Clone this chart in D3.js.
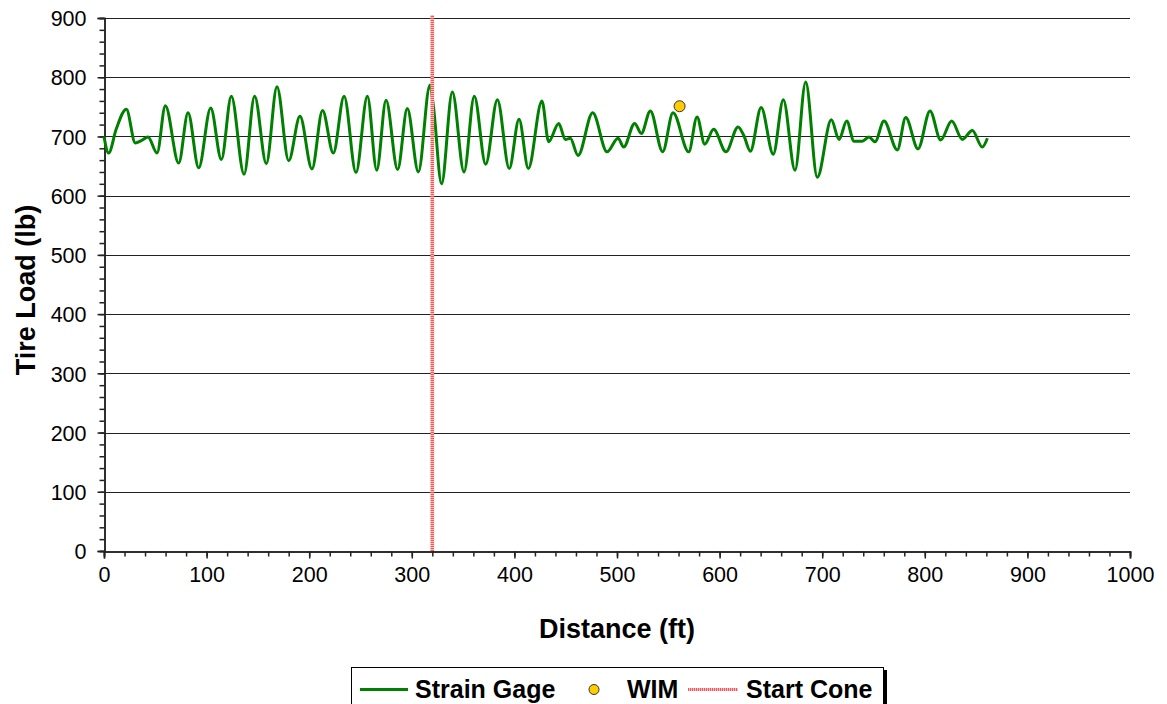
<!DOCTYPE html>
<html>
<head>
<meta charset="utf-8">
<script src="https://cdn.jsdelivr.net/npm/d3@7"></script>
<style>
  html, body { margin: 0; padding: 0; background: #fff; }
  svg { display: block; font-family: "Liberation Sans", Arial, sans-serif; }
</style>
</head>
<body>
<svg id="chart" width="1167" height="704"></svg>
<script>
// Strain gage trace: distance (ft) and tire load (lb) at peaks, troughs and shoulders
const gageDistance = [0, 4.5, 12, 21.8, 30.5, 36.4, 42.9, 51.7, 59.8, 72.8, 81.9, 92.3, 104, 114.4, 124.1, 136.5,
  146.8, 158.2, 168.6, 180, 191, 202.7, 213, 223.5, 234, 245.6, 256.7, 265.8, 274.9, 286.2, 295.6, 306.4,
  317.7, 321, 329, 339.5, 350.9, 360.9, 372, 383.4, 395, 404.5, 413.6, 426.8, 433.4, 443.2, 449.6, 454.5,
  462, 476.3, 490.3, 501, 506.5, 517.2, 523.7, 532.5, 544.5, 554.6, 569.9, 578, 585.5, 594.2, 606.2, 618,
  623.5, 630, 640.5, 652.3, 662.1, 673.5, 683.9, 695.2, 708.9, 716.4, 723.9, 731, 739, 745.6, 751.5, 760.2,
  773.2, 781.4, 793.4, 805.1, 815.5, 826.2, 836.6, 846.3, 856, 861];
const gageLoad = [700, 672, 713, 746, 689, 693, 699, 672, 752, 655, 740, 647, 748, 661, 768, 636,
  768, 654, 784, 659, 734, 645, 744, 672, 768, 639, 768, 643, 761, 644, 747, 640,
  787, 752, 620, 775, 640, 768, 653, 762, 646, 729, 646, 760, 691, 722, 695, 697,
  668, 740, 674, 697, 682, 722, 705, 743, 674, 740, 674, 733, 687, 712, 674, 716,
  702, 675, 749, 670, 762, 643, 792, 631, 728, 695, 726, 692, 692, 699, 691, 726,
  677, 732, 679, 743, 694, 726, 695, 710, 682, 697];

// Weigh-in-motion reading
const wimDistance = [561];
const wimLoad = [751];

// Start cone position
const coneDistance = [320, 320];
const coneLoad = [0, 905];

// Axis ticks
const xTicks = [0, 100, 200, 300, 400, 500, 600, 700, 800, 900, 1000];
const yTicks = [0, 100, 200, 300, 400, 500, 600, 700, 800, 900];
const legendLabels = ["Strain Gage", "WIM", "Start Cone"];

const svg = d3.select("#chart");
const plotLeft = 104, plotRight = 1130, plotTop = 18, plotBottom = 551;

const x = d3.scaleLinear().domain([0, 1000]).range([plotLeft, plotRight]);
const y = d3.scaleLinear().domain([0, 900]).range([plotBottom, plotTop]);

// Horizontal gridlines
svg.append("g")
  .selectAll("line")
  .data(yTicks.filter(t => t > 0))
  .join("line")
  .attr("x1", plotLeft).attr("x2", plotRight)
  .attr("y1", d => Math.round(y(d)) + 0.5).attr("y2", d => Math.round(y(d)) + 0.5)
  .attr("stroke", "#222").attr("stroke-width", 1.2);

// Axes with minor ticks
function minorTicks(max, step) { return d3.range(0, max + 0.001, step); }

const xMinor = svg.append("g").attr("transform", `translate(0,${Math.round(plotBottom) + 0.5})`)
  .call(d3.axisBottom(x).tickValues(minorTicks(1000, 20)).tickSize(5).tickFormat(""));
const xMajor = svg.append("g").attr("transform", `translate(0,${Math.round(plotBottom) + 0.5})`)
  .call(d3.axisBottom(x).tickValues(xTicks).tickSize(7).tickPadding(14).tickFormat(d3.format("d")));

const yMinor = svg.append("g").attr("transform", `translate(${plotLeft + 0.5},0)`)
  .call(d3.axisLeft(y).tickValues(minorTicks(900, 20)).tickSize(5).tickFormat(""));
const yMajor = svg.append("g").attr("transform", `translate(${plotLeft + 0.5},0)`)
  .call(d3.axisLeft(y).tickValues(yTicks).tickSize(7).tickPadding(11).tickFormat(d3.format("d")));

[xMinor, xMajor, yMinor, yMajor].forEach(g => {
  g.selectAll("path.domain").attr("stroke", "#222").attr("stroke-width", 1.5);
  g.selectAll(".tick line").attr("stroke", "#222").attr("stroke-width", 1.5);
  g.selectAll("text").attr("fill", "#000").style("font-size", "21.5px")
    .style("font-family", "'Liberation Sans', Arial, sans-serif");
});
xMajor.selectAll("text").attr("dy", "0.42em");
yMajor.selectAll("text").attr("dy", "0.36em");

// Axis titles
svg.append("text")
  .attr("x", 617).attr("y", 638)
  .attr("text-anchor", "middle")
  .style("font-size", "27px").style("font-weight", "bold")
  .text("Distance (ft)");

svg.append("text")
  .attr("transform", `translate(35,290) rotate(-90)`)
  .attr("text-anchor", "middle")
  .style("font-size", "27px").style("font-weight", "bold")
  .text("Tire Load (lb)");

// Strain gage trace
const gage = gageDistance.map((d, i) => [d, gageLoad[i]]);
const line = d3.line().x(d => x(d[0])).y(d => y(d[1])).curve(d3.curveMonotoneX);
svg.append("path")
  .datum(gage)
  .attr("d", line)
  .attr("fill", "none")
  .attr("stroke", "#008000")
  .attr("stroke-width", 3)
  .attr("stroke-linejoin", "round");

// Start cone line
const cone = coneDistance.map((d, i) => [d, coneLoad[i]]);
const straight = d3.line().x(d => x(d[0])).y(d => y(d[1]));
svg.append("path").datum(cone).attr("d", straight)
  .attr("stroke", "#ffbcbc").attr("stroke-width", 3.5).attr("fill", "none");
svg.append("path").datum(cone).attr("d", straight)
  .attr("stroke", "#f25858").attr("stroke-width", 3.5).attr("stroke-dasharray", "1 1").attr("fill", "none");

// WIM point
svg.append("g").selectAll("circle")
  .data(wimDistance.map((d, i) => [d, wimLoad[i]]))
  .join("circle")
  .attr("cx", d => x(d[0])).attr("cy", d => y(d[1]))
  .attr("r", 5.5)
  .attr("fill", "#ffcc00").attr("stroke", "#333").attr("stroke-width", 1);

// Legend
const legend = svg.append("g");
legend.append("rect").attr("x", 354).attr("y", 670).attr("width", 533).attr("height", 40)
  .attr("fill", "#000");
legend.append("rect").attr("x", 351.5).attr("y", 667.5).attr("width", 532).attr("height", 40)
  .attr("fill", "#fff").attr("stroke", "#000").attr("stroke-width", 1);

const legendY = 689.5;
legend.append("line").attr("x1", 360).attr("x2", 408).attr("y1", legendY).attr("y2", legendY)
  .attr("stroke", "#008000").attr("stroke-width", 3);
legend.append("circle").attr("cx", 594).attr("cy", legendY).attr("r", 5)
  .attr("fill", "#ffcc00").attr("stroke", "#333").attr("stroke-width", 1);
legend.append("line").attr("x1", 688).attr("x2", 738).attr("y1", legendY).attr("y2", legendY)
  .attr("stroke", "#ffbcbc").attr("stroke-width", 3);
legend.append("line").attr("x1", 688).attr("x2", 738).attr("y1", legendY).attr("y2", legendY)
  .attr("stroke", "#f25858").attr("stroke-width", 3).attr("stroke-dasharray", "1 1");

const legendTextX = [415, 627, 746];
legend.selectAll("text.lbl")
  .data(legendLabels)
  .join("text")
  .attr("class", "lbl")
  .attr("x", (d, i) => legendTextX[i]).attr("y", 698)
  .style("font-size", "25px").style("font-weight", "bold")
  .text(d => d);
</script>
</body>
</html>
